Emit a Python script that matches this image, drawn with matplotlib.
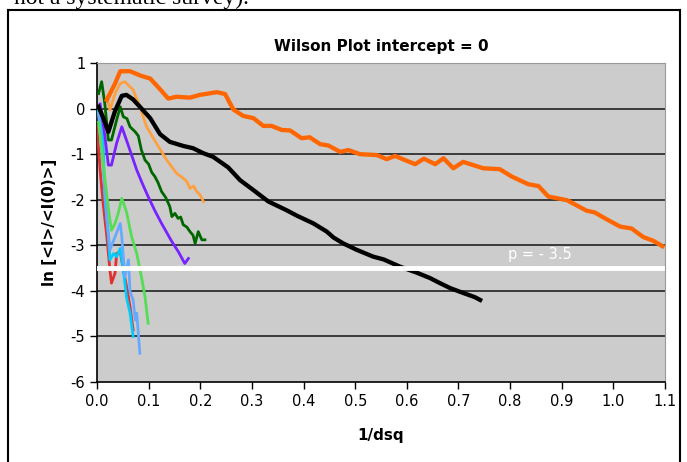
import matplotlib
matplotlib.use("Agg")
from matplotlib import pyplot as plt
from matplotlib.lines import Line2D

plt.rcParams["axes.unicode_minus"] = False

# series (x = 1/dsq, y = ln[<I>/<I(0)>])
orange_x = [0.019, 0.035, 0.045, 0.064, 0.085, 0.103, 0.120, 0.138, 0.154, 0.180, 0.199,
            0.232, 0.248, 0.264, 0.283, 0.303, 0.322, 0.338, 0.358, 0.374, 0.396, 0.412,
            0.432, 0.448, 0.471, 0.487, 0.509, 0.542, 0.561, 0.577, 0.616, 0.633, 0.655,
            0.671, 0.690, 0.709, 0.748, 0.780, 0.803, 0.835, 0.855, 0.874, 0.910, 0.948,
            0.964, 0.984, 1.013, 1.035, 1.058, 1.077, 1.095]
orange_y = [0.19, 0.55, 0.82, 0.82, 0.72, 0.66, 0.45, 0.22, 0.26, 0.24, 0.30,
            0.36, 0.32, -0.02, -0.16, -0.21, -0.38, -0.38, -0.47, -0.48, -0.65, -0.63,
            -0.78, -0.81, -0.95, -0.91, -1.00, -1.02, -1.11, -1.04, -1.22, -1.10, -1.22,
            -1.09, -1.31, -1.17, -1.31, -1.33, -1.49, -1.66, -1.70, -1.93, -2.01, -2.24,
            -2.28, -2.41, -2.59, -2.63, -2.82, -2.90, -3.02]

black_x = [0.003, 0.012, 0.022, 0.035, 0.048, 0.057, 0.070, 0.083, 0.103, 0.122, 0.141,
           0.167, 0.186, 0.206, 0.225, 0.254, 0.277, 0.303, 0.332, 0.367, 0.387, 0.419,
           0.445, 0.458, 0.477, 0.503, 0.535, 0.555, 0.587, 0.619, 0.645, 0.664, 0.684,
           0.710, 0.732, 0.742]
black_y = [0.04, -0.20, -0.51, -0.05, 0.28, 0.30, 0.20, 0.04, -0.21, -0.56, -0.73,
           -0.82, -0.87, -0.98, -1.06, -1.29, -1.57, -1.79, -2.04, -2.23, -2.35, -2.52,
           -2.70, -2.83, -2.96, -3.10, -3.25, -3.31, -3.47, -3.60, -3.72, -3.83, -3.94,
           -4.05, -4.14, -4.20]

lorange_x = [0.019, 0.025, 0.035, 0.045, 0.054, 0.070, 0.083, 0.096, 0.115, 0.135, 0.154,
             0.166, 0.174, 0.180, 0.187, 0.193, 0.200, 0.206]
lorange_y = [0.26, -0.03, 0.33, 0.55, 0.59, 0.41, 0.04, -0.40, -0.76, -1.13, -1.42,
             -1.52, -1.60, -1.75, -1.70, -1.82, -1.90, -2.04]

dgreen_x = [0.003, 0.009, 0.015, 0.022, 0.028, 0.038, 0.045, 0.051, 0.058, 0.064, 0.074,
            0.080, 0.086, 0.093, 0.100, 0.106, 0.112, 0.118, 0.125, 0.133, 0.141, 0.145,
            0.151, 0.157, 0.162, 0.167, 0.174, 0.180, 0.186, 0.190, 0.196, 0.203, 0.209]
dgreen_y = [0.33, 0.59, 0.12, -0.69, -0.69, -0.25, 0.04, -0.18, -0.22, -0.40, -0.51,
            -0.60, -0.91, -1.13, -1.22, -1.40, -1.49, -1.62, -1.82, -1.95, -2.15, -2.37,
            -2.30, -2.41, -2.38, -2.55, -2.60, -2.70, -2.78, -2.96, -2.70, -2.88, -2.88]

purple_x = [0.006, 0.014, 0.022, 0.028, 0.038, 0.048, 0.057, 0.067, 0.077, 0.088, 0.099,
            0.112, 0.125, 0.135, 0.145, 0.158, 0.170, 0.177]
purple_y = [0.10, -0.50, -1.24, -1.24, -0.76, -0.40, -0.69, -1.02, -1.35, -1.65, -1.93,
            -2.24, -2.52, -2.72, -2.92, -3.15, -3.40, -3.29]

lgreen_x = [0.003, 0.012, 0.019, 0.025, 0.028, 0.035, 0.041, 0.048, 0.057, 0.067, 0.077,
            0.086, 0.093, 0.099]
lgreen_y = [-0.30, -1.20, -1.90, -2.45, -2.67, -2.52, -2.30, -1.97, -2.26, -2.81, -3.18,
            -3.69, -4.13, -4.71]

red_x = [0.0, 0.006, 0.012, 0.019, 0.025, 0.028, 0.035, 0.038, 0.045, 0.051, 0.058,
         0.064, 0.070]
red_y = [-0.40, -1.35, -2.10, -2.81, -3.54, -3.83, -3.61, -3.18, -3.14, -3.54, -3.95,
         -4.35, -4.86]

lblue_x = [0.003, 0.012, 0.019, 0.025, 0.035, 0.045, 0.048, 0.054, 0.061, 0.064, 0.070,
           0.074, 0.077, 0.083]
lblue_y = [-0.10, -1.30, -2.40, -3.10, -2.81, -2.52, -2.81, -3.69, -3.32, -4.02, -4.20,
           -4.64, -4.49, -5.37]

cyan_x = [0.0, 0.006, 0.012, 0.015, 0.022, 0.025, 0.032, 0.038, 0.045, 0.051, 0.057,
          0.064, 0.070]
cyan_y = [0.04, -0.30, -0.76, -1.93, -2.81, -3.32, -3.18, -3.25, -3.07, -3.54, -4.13,
          -4.49, -5.00]

p_level = -3.5
p_label = "p = - 3.5"

fig = plt.figure(figsize=(6.87, 4.62), dpi=100)
ax = fig.add_axes([0.1412, 0.1732, 0.8268, 0.6904])
ax.set_facecolor("#CCCCCC")

# horizontal grid lines
for g in range(-5, 1):
    ax.axhline(g, color="#222222", lw=1.2, zorder=1)

series = [
    (red_x, red_y, "#E03030", 2.0),
    (cyan_x, cyan_y, "#00CCFF", 2.0),
    (lblue_x, lblue_y, "#66AAFF", 2.0),
    (lgreen_x, lgreen_y, "#55DD55", 2.0),
    (purple_x, purple_y, "#7722FF", 2.0),
    (dgreen_x, dgreen_y, "#006600", 2.0),
    (lorange_x, lorange_y, "#FFA040", 2.0),
    (black_x, black_y, "black", 3.1),
    (orange_x, orange_y, "#FF6600", 3.1),
]
for xs, ys, col, lw in series:
    ax.plot(xs, ys, color=col, lw=lw, zorder=3, solid_joinstyle="round")

ax.plot([0.0, 1.095], [p_level, p_level], color="white", lw=3.5, zorder=4)
ax.text(0.858, -3.2, p_label, color="white", fontsize=10.5, ha="center", va="center",
        zorder=5)

ax.set_xlim(0, 1.1)
ax.set_ylim(-6, 1)
ax.set_xticks([i / 10 for i in range(12)])
ax.set_xticklabels(["%.1f" % (i / 10) for i in range(12)])
ax.set_yticks(range(-6, 2))
ax.tick_params(axis="both", direction="out", length=5, width=1, labelsize=10.5,
               colors="black")

ax.spines["top"].set_color("#999999")
ax.spines["right"].set_color("#999999")
ax.spines["left"].set_linewidth(1.2)
ax.spines["bottom"].set_linewidth(1.2)

ax.set_title("Wilson Plot intercept = 0", fontsize=11, fontweight="bold", pad=9)
ax.set_xlabel("1/dsq", fontsize=11, fontweight="bold", labelpad=14)
ax.set_ylabel("ln [<I>/<I(0)>]", fontsize=11, fontweight="bold", labelpad=10)

# outer chart frame (open at the bottom, cut off by the page)
l, r, t = 7.5 / 687, 680 / 687, 1 - 9.5 / 462
fig.add_artist(Line2D([l, l], [0, t], color="black", lw=1.5))
fig.add_artist(Line2D([r, r], [0, t], color="black", lw=1.5))
fig.add_artist(Line2D([l, r], [t, t], color="black", lw=1.5))

# surrounding document text, mostly cut off at the top as in the page capture
fig.text(0.02, 1.004, "not a systematic survey).", family="Liberation Serif",
         fontsize=17, ha="left", va="center")

fig.savefig("out.png", dpi=100)
